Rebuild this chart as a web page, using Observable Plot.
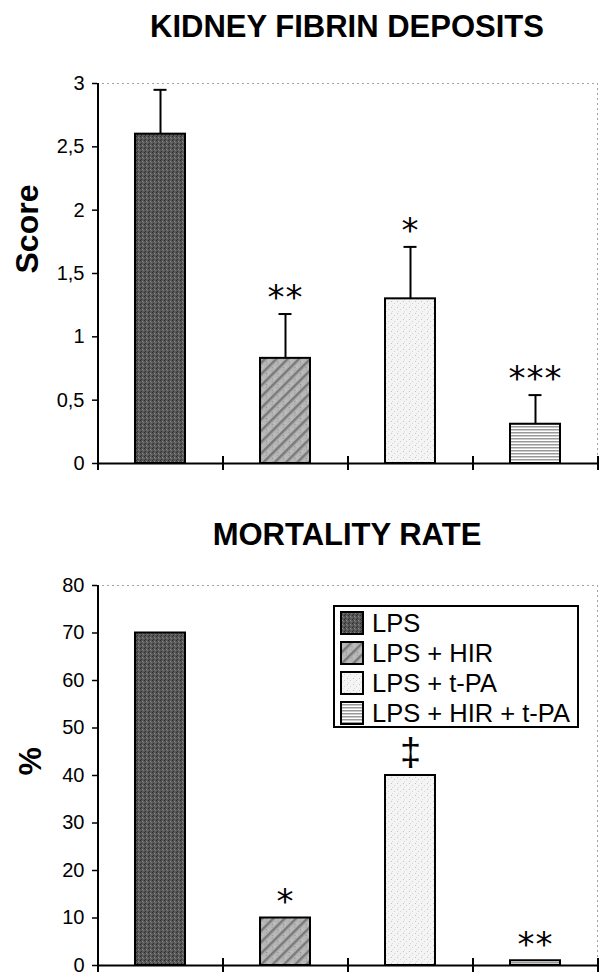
<!DOCTYPE html>
<html>
<head>
<meta charset="utf-8">
<script src="https://cdn.jsdelivr.net/npm/d3@7"></script>
<script src="https://cdn.jsdelivr.net/npm/@observablehq/plot@0.6"></script>
<style>
body { margin: 0; background: #fff; font-family: "Liberation Sans", Arial, sans-serif; }
#wrap { position: relative; width: 599px; height: 975px; overflow: hidden; }
.title { position: absolute; left: 0; width: 694px; text-align: center; font-weight: bold; font-size: 31px; line-height: 1; white-space: nowrap; color: #000; }
.chart { position: absolute; left: 0; }
#legend { position: absolute; left: 333px; top: 605px; width: 246px; height: 123px; box-sizing: border-box; border: 2px solid #000; background: #fff; padding: 1px 0 0 5px; }
.row { height: 30px; display: flex; align-items: center; }
.row svg { margin-right: 8px; flex: none; }
.row span { font-size: 25.5px; white-space: nowrap; color: #000; }
g[font-family="DejaVu Sans"] text { letter-spacing: 1px; }
</style>
</head>
<body>
<div id="wrap">
  <div class="title" style="top:11px">KIDNEY FIBRIN DEPOSITS</div>
  <div class="chart" id="c1" style="top:0px"></div>
  <div class="title" style="top:519px">MORTALITY RATE</div>
  <div class="chart" id="c2" style="top:500px"></div>
  <div id="legend"></div>
</div>
<script>
// ---- data ----
const groups = ["LPS", "LPS + HIR", "LPS + t-PA", "LPS + HIR + t-PA"];
const fibrinScore = [2.6, 0.83, 1.3, 0.31];
const fibrinUpper = [2.95, 1.18, 1.71, 0.54];
const fibrinSig = ["", "**", "*", "***"];
const fibrinTicks = [0, 0.5, 1, 1.5, 2, 2.5, 3];
const mortalityPct = [70, 10, 40, 1];
const mortalitySig = ["", "*", "‡", "**"];
const mortalityTicks = [0, 10, 20, 30, 40, 50, 60, 70, 80];

// ---- styles ----
const patternIds = ["pLPS", "pHIR", "pTPA", "pBOTH"];
const patternUrls = patternIds.map(id => `url(#${id})`);

const fibrin = groups.map((g, i) => ({group: g, value: fibrinScore[i], upper: fibrinUpper[i], sig: fibrinSig[i]}));
const mortality = groups.map((g, i) => ({group: g, value: mortalityPct[i], upper: mortalityPct[i], sig: mortalitySig[i]}));

const W = 599, ML = 97, MR = 2;
const halfStep = (W - ML - MR) / groups.length / 2;

function makeChart({data, height, marginTop, marginBottom, domain, ticks, tickFormat, label, labelDx, errorBars}) {
  const marks = [
    Plot.frame({stroke: "#444", strokeDasharray: "1,4", strokeWidth: 1}),
    Plot.barY(data, {x: "group", y: "value", fill: "group", stroke: "#000", strokeWidth: 2}),
  ];
  if (errorBars) {
    marks.push(
      Plot.ruleX(data, {x: "group", y1: "value", y2: "upper", stroke: "#000", strokeWidth: 2}),
      Plot.tickY(data, {x: "group", y: "upper", stroke: "#000", strokeWidth: 2, insetLeft: 18.5, insetRight: 18.5})
    );
  }
  marks.push(
    Plot.text(data.filter(d => d.sig.includes("*")), {x: "group", y: "upper", text: "sig", dy: -16, fontSize: 34, fontFamily: "DejaVu Sans", fill: "#000"}),
    Plot.text(data.filter(d => d.sig.includes("‡")), {x: "group", y: "upper", text: "sig", dy: -23, fontSize: 38, fill: "#000"}),
    Plot.axisY({ticks, tickSize: 5, tickPadding: 8, tickFormat, fontSize: 20, label: null, strokeWidth: 1.5}),
    // y axis line
    Plot.ruleX([groups[0]], {x: d => d, dx: -halfStep, stroke: "#000", strokeWidth: 2}),
    // x axis line
    Plot.ruleY([domain[0]], {stroke: "#000", strokeWidth: 2}),
    // category boundary cross ticks
    Plot.ruleX(groups, {x: d => d, y1: domain[0], y2: domain[0], insetTop: 7, insetBottom: 7, dx: -halfStep, stroke: "#000", strokeWidth: 2}),
    Plot.ruleX([groups[groups.length - 1]], {x: d => d, y1: domain[0], y2: domain[0], insetTop: 7, insetBottom: 7, dx: halfStep, stroke: "#000", strokeWidth: 2}),
    Plot.text([label], {text: d => d, frameAnchor: "left", dx: labelDx, rotate: -90, fontSize: 32, fontWeight: "bold", fill: "#000"})
  );
  return Plot.plot({
    width: W, height, marginTop, marginBottom, marginLeft: ML, marginRight: MR,
    x: {domain: groups, paddingInner: 0.6, paddingOuter: 0.3, axis: null},
    y: {domain, axis: null},
    color: {domain: groups, range: patternUrls},
    style: {fontFamily: '"Liberation Sans", Arial, sans-serif', background: "transparent", color: "#000", overflow: "visible"},
    marks
  });
}

const svg1 = makeChart({
  data: fibrin, height: 490, marginTop: 83, marginBottom: 27, domain: [0, 3], ticks: fibrinTicks,
  tickFormat: d => String(d).replace(".", ","), label: "Score", labelDx: -70, errorBars: true
});
const svg2 = makeChart({
  data: mortality, height: 475, marginTop: 85, marginBottom: 10, domain: [0, 80], ticks: mortalityTicks,
  tickFormat: d => String(d), label: "%", labelDx: -67, errorBars: false
});
document.getElementById("c1").appendChild(svg1);
document.getElementById("c2").appendChild(svg2);

// pattern definitions
const defs = d3.select(svg1).insert("defs", ":first-child");
{
  const p = defs.append("pattern").attr("id", patternIds[0]).attr("width", 4).attr("height", 4).attr("patternUnits", "userSpaceOnUse");
  p.append("rect").attr("width", 4).attr("height", 4).attr("fill", "#585858");
  [[0,0,"#2a2a2a"],[2,1,"#8c8c8c"],[1,3,"#333"],[3,2,"#777"],[1,1,"#444"]].forEach(([x,y,c]) =>
    p.append("rect").attr("x", x).attr("y", y).attr("width", 1).attr("height", 1).attr("fill", c));
}
{
  const p = defs.append("pattern").attr("id", patternIds[1]).attr("width", 8).attr("height", 8).attr("patternUnits", "userSpaceOnUse").attr("patternTransform", "rotate(45)");
  p.append("rect").attr("width", 8).attr("height", 8).attr("fill", "#b6b6b6");
  p.append("rect").attr("width", 2.5).attr("height", 8).attr("fill", "#7a7a7a");
  [[5,1,"#d0d0d0"],[6,5,"#999"],[4,3,"#888"]].forEach(([x,y,c]) =>
    p.append("rect").attr("x", x).attr("y", y).attr("width", 1).attr("height", 1).attr("fill", c));
}
{
  const p = defs.append("pattern").attr("id", patternIds[2]).attr("width", 6).attr("height", 6).attr("patternUnits", "userSpaceOnUse");
  p.append("rect").attr("width", 6).attr("height", 6).attr("fill", "#f4f4f4");
  [[1,1,"#c4c4c4"],[4,3,"#d2d2d2"],[2,5,"#dcdcdc"]].forEach(([x,y,c]) =>
    p.append("rect").attr("x", x).attr("y", y).attr("width", 1).attr("height", 1).attr("fill", c));
}
{
  const p = defs.append("pattern").attr("id", patternIds[3]).attr("width", 4).attr("height", 3).attr("patternUnits", "userSpaceOnUse");
  p.append("rect").attr("width", 4).attr("height", 3).attr("fill", "#ffffff");
  p.append("rect").attr("width", 4).attr("height", 1.5).attr("fill", "#999");
}

// legend
const legend = d3.select("#legend");
groups.forEach((g, i) => {
  const row = legend.append("div").attr("class", "row");
  const s = row.append("svg").attr("width", 24).attr("height", 24);
  s.append("rect").attr("x", 1).attr("y", 1).attr("width", 22).attr("height", 22)
    .attr("fill", patternUrls[i]).attr("stroke", "#000").attr("stroke-width", 2);
  row.append("span").text(g);
});
</script>
</body>
</html>
